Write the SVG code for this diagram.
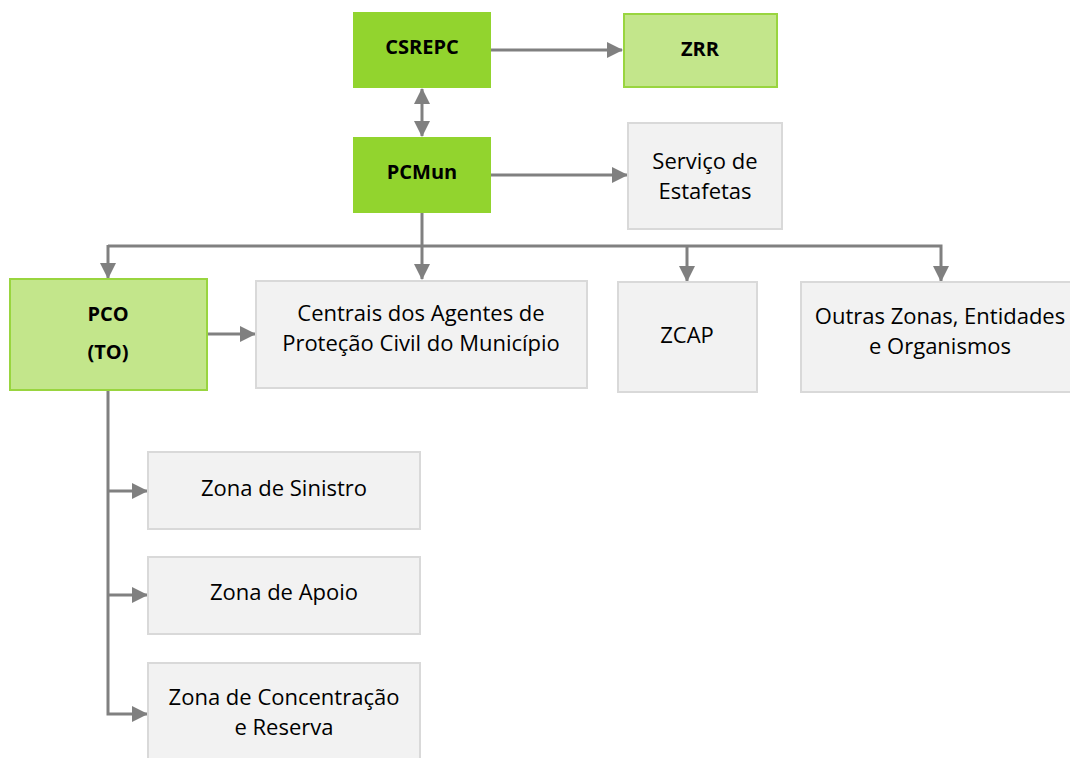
<svg xmlns="http://www.w3.org/2000/svg" width="1070" height="758" viewBox="0 0 1070 758">
<defs>
<style>
.g1{fill:#92d42e;stroke:none}
.g2{fill:#c3e68b;stroke:#99d53f;stroke-width:2}
.gr{fill:#f2f2f2;stroke:#d9d9d9;stroke-width:2}
text{font-family:"Open Sans","Liberation Sans",sans-serif;font-size:22px;fill:#000;text-anchor:middle}
.b{font-weight:bold;font-size:20px}
.c line,.c path{stroke:#808080;stroke-width:3;fill:none}
</style>
<marker id="ah" markerUnits="userSpaceOnUse" markerWidth="16" markerHeight="16" viewBox="0 0 16 16" refX="15" refY="8" orient="auto-start-reverse">
<path d="M0,0 L16,8 L0,16 Z" fill="#808080"/>
</marker>
</defs>
<g class="c" id="connectors">
<line x1="491" y1="50" x2="622" y2="50" marker-end="url(#ah)"/>
<line x1="422" y1="89" x2="422" y2="136" marker-start="url(#ah)" marker-end="url(#ah)"/>
<line x1="491" y1="175" x2="627" y2="175" marker-end="url(#ah)"/>
<line x1="422" y1="213" x2="422" y2="279" marker-end="url(#ah)"/>
<path d="M108,246 H941 V281" marker-end="url(#ah)"/>
<line x1="108" y1="245" x2="108" y2="278" marker-end="url(#ah)"/>
<line x1="687" y1="246" x2="687" y2="281" marker-end="url(#ah)"/>
<line x1="207" y1="334" x2="255" y2="334" marker-end="url(#ah)"/>
<path d="M108,390 V714 H147" marker-end="url(#ah)"/>
<line x1="108" y1="491" x2="147" y2="491" marker-end="url(#ah)"/>
<line x1="108" y1="595" x2="147" y2="595" marker-end="url(#ah)"/>
</g>
<g id="csrepc"><rect class="g1" x="353" y="12" width="138" height="76"/><text class="b" x="422" y="54">CSREPC</text></g>
<g id="zrr"><rect class="g2" x="624" y="14" width="153" height="73"/><text class="b" x="700" y="56">ZRR</text></g>
<g id="pcmun"><rect class="g1" x="353" y="137" width="138" height="76"/><text class="b" x="422" y="179">PCMun</text></g>
<g id="estafetas"><rect class="gr" x="628" y="123" width="154" height="106"/><text x="705" y="169">Serviço de</text><text x="705" y="199">Estafetas</text></g>
<g id="pco"><rect class="g2" x="10" y="279" width="197" height="111"/><text class="b" x="108" y="321">PCO</text><text class="b" x="108" y="359">(TO)</text></g>
<g id="centrais"><rect class="gr" x="256" y="281" width="331" height="107"/><text x="421" y="321">Centrais dos Agentes de</text><text x="421" y="351">Proteção Civil do Município</text></g>
<g id="zcap"><rect class="gr" x="618" y="282" width="139" height="110"/><text x="687" y="343">ZCAP</text></g>
<g id="outras"><rect class="gr" x="801" y="282" width="279" height="110"/><text x="940" y="324">Outras Zonas, Entidades</text><text x="940" y="354">e Organismos</text></g>
<g id="sinistro"><rect class="gr" x="148" y="452" width="272" height="77"/><text x="284" y="496">Zona de Sinistro</text></g>
<g id="apoio"><rect class="gr" x="148" y="557" width="272" height="77"/><text x="284" y="600">Zona de Apoio</text></g>
<g id="concentracao"><rect class="gr" x="148" y="663" width="272" height="110"/><text x="284" y="705">Zona de Concentração</text><text x="284" y="735">e Reserva</text></g>
</svg>
